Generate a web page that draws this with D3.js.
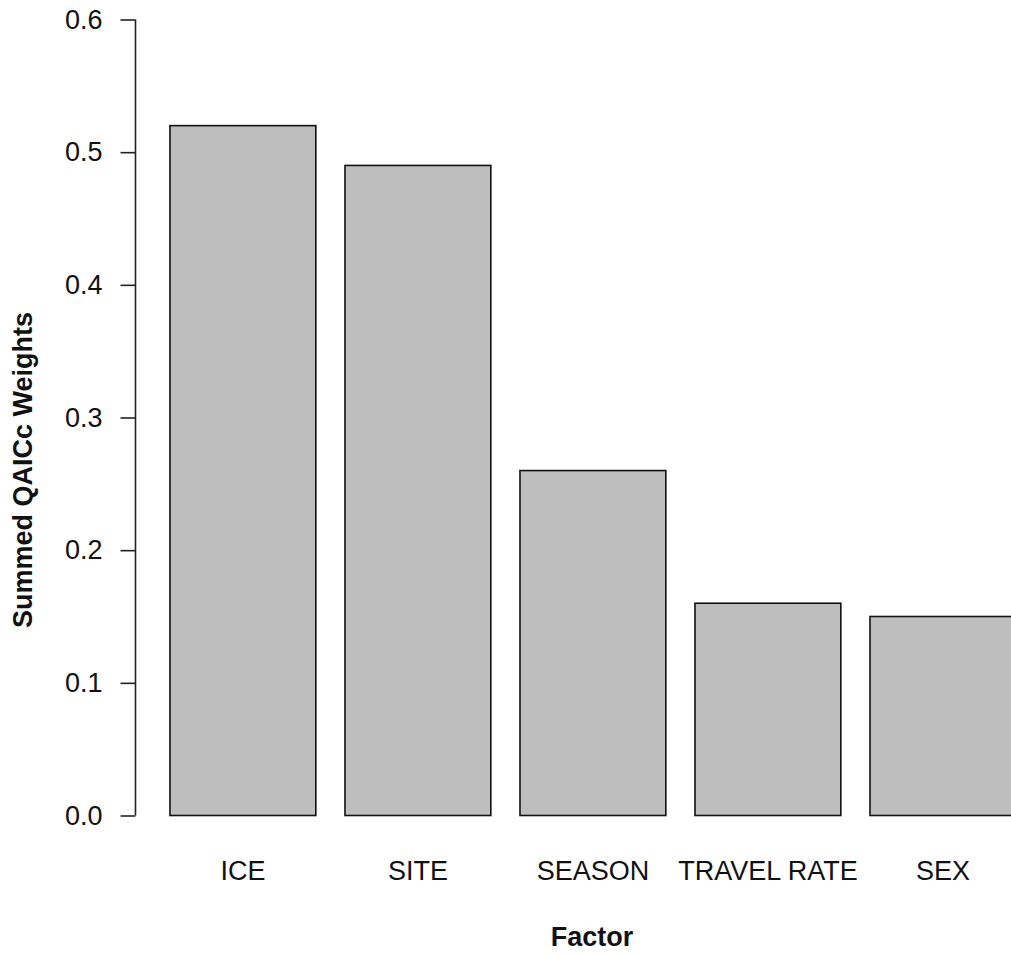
<!DOCTYPE html>
<html>
<head>
<meta charset="utf-8">
<script src="https://cdn.jsdelivr.net/npm/d3@7"></script>
<style>
  html, body { margin: 0; padding: 0; background: #fff; }
  svg { display: block; font-family: "Liberation Sans", Arial, sans-serif; }
</style>
</head>
<body>
<svg id="chart" width="1011" height="956"></svg>
<script>
const categories = ["ICE", "SITE", "SEASON", "TRAVEL RATE", "SEX"];
const weights = [0.52, 0.49, 0.26, 0.16, 0.15];
const yTicks = [0.0, 0.1, 0.2, 0.3, 0.4, 0.5, 0.6];
const yTitle = "Summed QAICc Weights";
const xTitle = "Factor";

const svg = d3.select("#chart");
const fontSize = 27;

// scales (R barplot: width 1, space 0.2)
const x = d3.scaleBand()
  .domain(categories)
  .range([140.8, 1045])
  .paddingInner(0.2 / 1.2)
  .paddingOuter(0.2 / 1.2);

const y = d3.scaleLinear().domain([0, 0.6]).range([815.5, 19.5]);

// bars
svg.append("g").selectAll("rect")
  .data(categories.map((c, i) => ({ c, v: weights[i] })))
  .join("rect")
  .attr("x", d => x(d.c))
  .attr("y", d => y(d.v))
  .attr("width", x.bandwidth())
  .attr("height", d => y(0) - y(d.v))
  .attr("fill", "#bebebe")
  .attr("stroke", "#111")
  .attr("stroke-width", 1.6);

// y axis
const yAxis = d3.axisLeft(y)
  .tickValues(yTicks)
  .tickFormat(d3.format(".1f"))
  .tickSize(15)
  .tickPadding(18);

const gy = svg.append("g")
  .attr("transform", "translate(135.5,0)")
  .call(yAxis);
gy.select(".domain").attr("stroke", "#222").attr("stroke-width", 1.6).attr("d", `M0,${y(0.6)}V${y(0)}`);
gy.selectAll(".tick line").attr("stroke", "#222").attr("stroke-width", 1.6);
gy.selectAll(".tick text")
  .attr("font-size", fontSize)
  .attr("font-family", "Liberation Sans, Arial, sans-serif")
  .attr("fill", "#111");

// x category labels
const gx = svg.append("g")
  .attr("transform", `translate(0,${y(0)})`)
  .call(d3.axisBottom(x).tickSize(0).tickPadding(45));
gx.select(".domain").remove();
gx.selectAll(".tick text")
  .attr("font-size", fontSize)
  .attr("font-family", "Liberation Sans, Arial, sans-serif")
  .attr("fill", "#111");

// axis titles
svg.append("text")
  .attr("x", 592)
  .attr("y", 946)
  .attr("text-anchor", "middle")
  .attr("font-size", fontSize)
  .attr("font-weight", "bold")
  .attr("fill", "#111")
  .text(xTitle);

svg.append("text")
  .attr("transform", "translate(32,470) rotate(-90)")
  .attr("text-anchor", "middle")
  .attr("font-size", fontSize)
  .attr("font-weight", "bold")
  .attr("fill", "#111")
  .text(yTitle);
</script>
</body>
</html>
